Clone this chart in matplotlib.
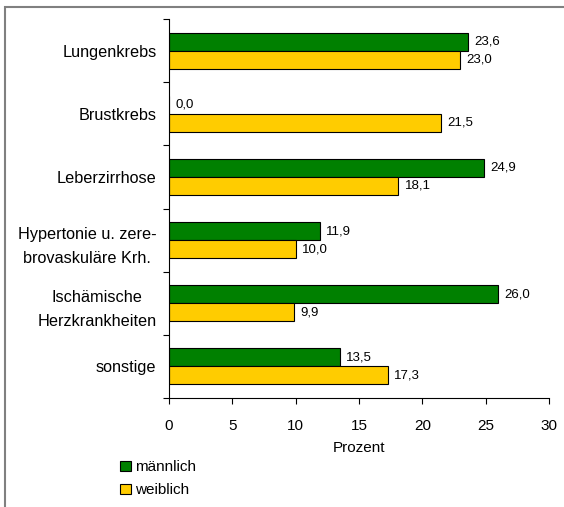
import numpy as np
import matplotlib
matplotlib.use('Agg')
import matplotlib.pyplot as plt
from matplotlib.patches import Rectangle

plt.rcParams['font.family'] = ['Liberation Sans', 'DejaVu Sans']

# data
categories = ['Lungenkrebs', 'Brustkrebs', 'Leberzirrhose',
              'Hypertonie u. zere-\nbrovaskuläre Krh.',
              'Ischämische\nHerzkrankheiten', 'sonstige']
maennlich = [23.6, 0.0, 24.9, 11.9, 26.0, 13.5]
weiblich = [23.0, 21.5, 18.1, 10.0, 9.9, 17.3]
x_ticks = [0, 5, 10, 15, 20, 25, 30]

fig = plt.figure(figsize=(5.64, 5.07), dpi=100)
ax = fig.add_axes([169 / 564, 1 - 398 / 507, 380 / 564, 379 / 507])

n = len(categories)
pos = np.arange(n) + 0.5
h = 0.285
ax.barh(pos - h / 2, maennlich, height=h, color='#008000', edgecolor='black',
        linewidth=0.8, label='männlich')
ax.barh(pos + h / 2, weiblich, height=h, color='#FFCC00', edgecolor='black',
        linewidth=0.8, label='weiblich')

for p, v in zip(pos, maennlich):
    ax.annotate(('%.1f' % v).replace('.', ','), (v, p - h / 2), xytext=(4.5, 0),
                textcoords='offset points', va='center', ha='left', fontsize=9.5)
for p, v in zip(pos, weiblich):
    ax.annotate(('%.1f' % v).replace('.', ','), (v, p + h / 2), xytext=(4.5, 0),
                textcoords='offset points', va='center', ha='left', fontsize=9.5)

ax.set_xlim(0, 30)
ax.set_ylim(n, 0)
ax.set_xticks(x_ticks)
ax.set_xticklabels([str(t) for t in x_ticks], fontsize=11)
ax.set_yticks(np.arange(n + 1))
ax.set_yticklabels([])
ax.set_yticks(pos, minor=True)
ax.set_yticklabels(categories, minor=True, fontsize=11.7, multialignment='center',
                   linespacing=1.75)
ax.tick_params(axis='y', which='minor', length=0, pad=9)
ax.tick_params(axis='y', which='major', length=4, direction='out')
ax.tick_params(axis='x', length=4, direction='out', pad=11)
ax.set_xlabel('Prozent', fontsize=11, labelpad=6)
for s in ['top', 'right']:
    ax.spines[s].set_visible(False)

fig.legend(loc='upper left', bbox_to_anchor=(114 / 564, 1 - 454 / 507),
           frameon=False, fontsize=11, handlelength=0.7, handleheight=0.6,
           handletextpad=0.3, labelspacing=0.6, borderaxespad=0)

# outer frame
fig.patches.append(Rectangle((5 / 564, -0.1), 1.2, 1 - 7 / 507 + 0.1,
                             transform=fig.transFigure, fill=False,
                             edgecolor='#808080', linewidth=1.5))

fig.savefig('out.png', dpi=100)
